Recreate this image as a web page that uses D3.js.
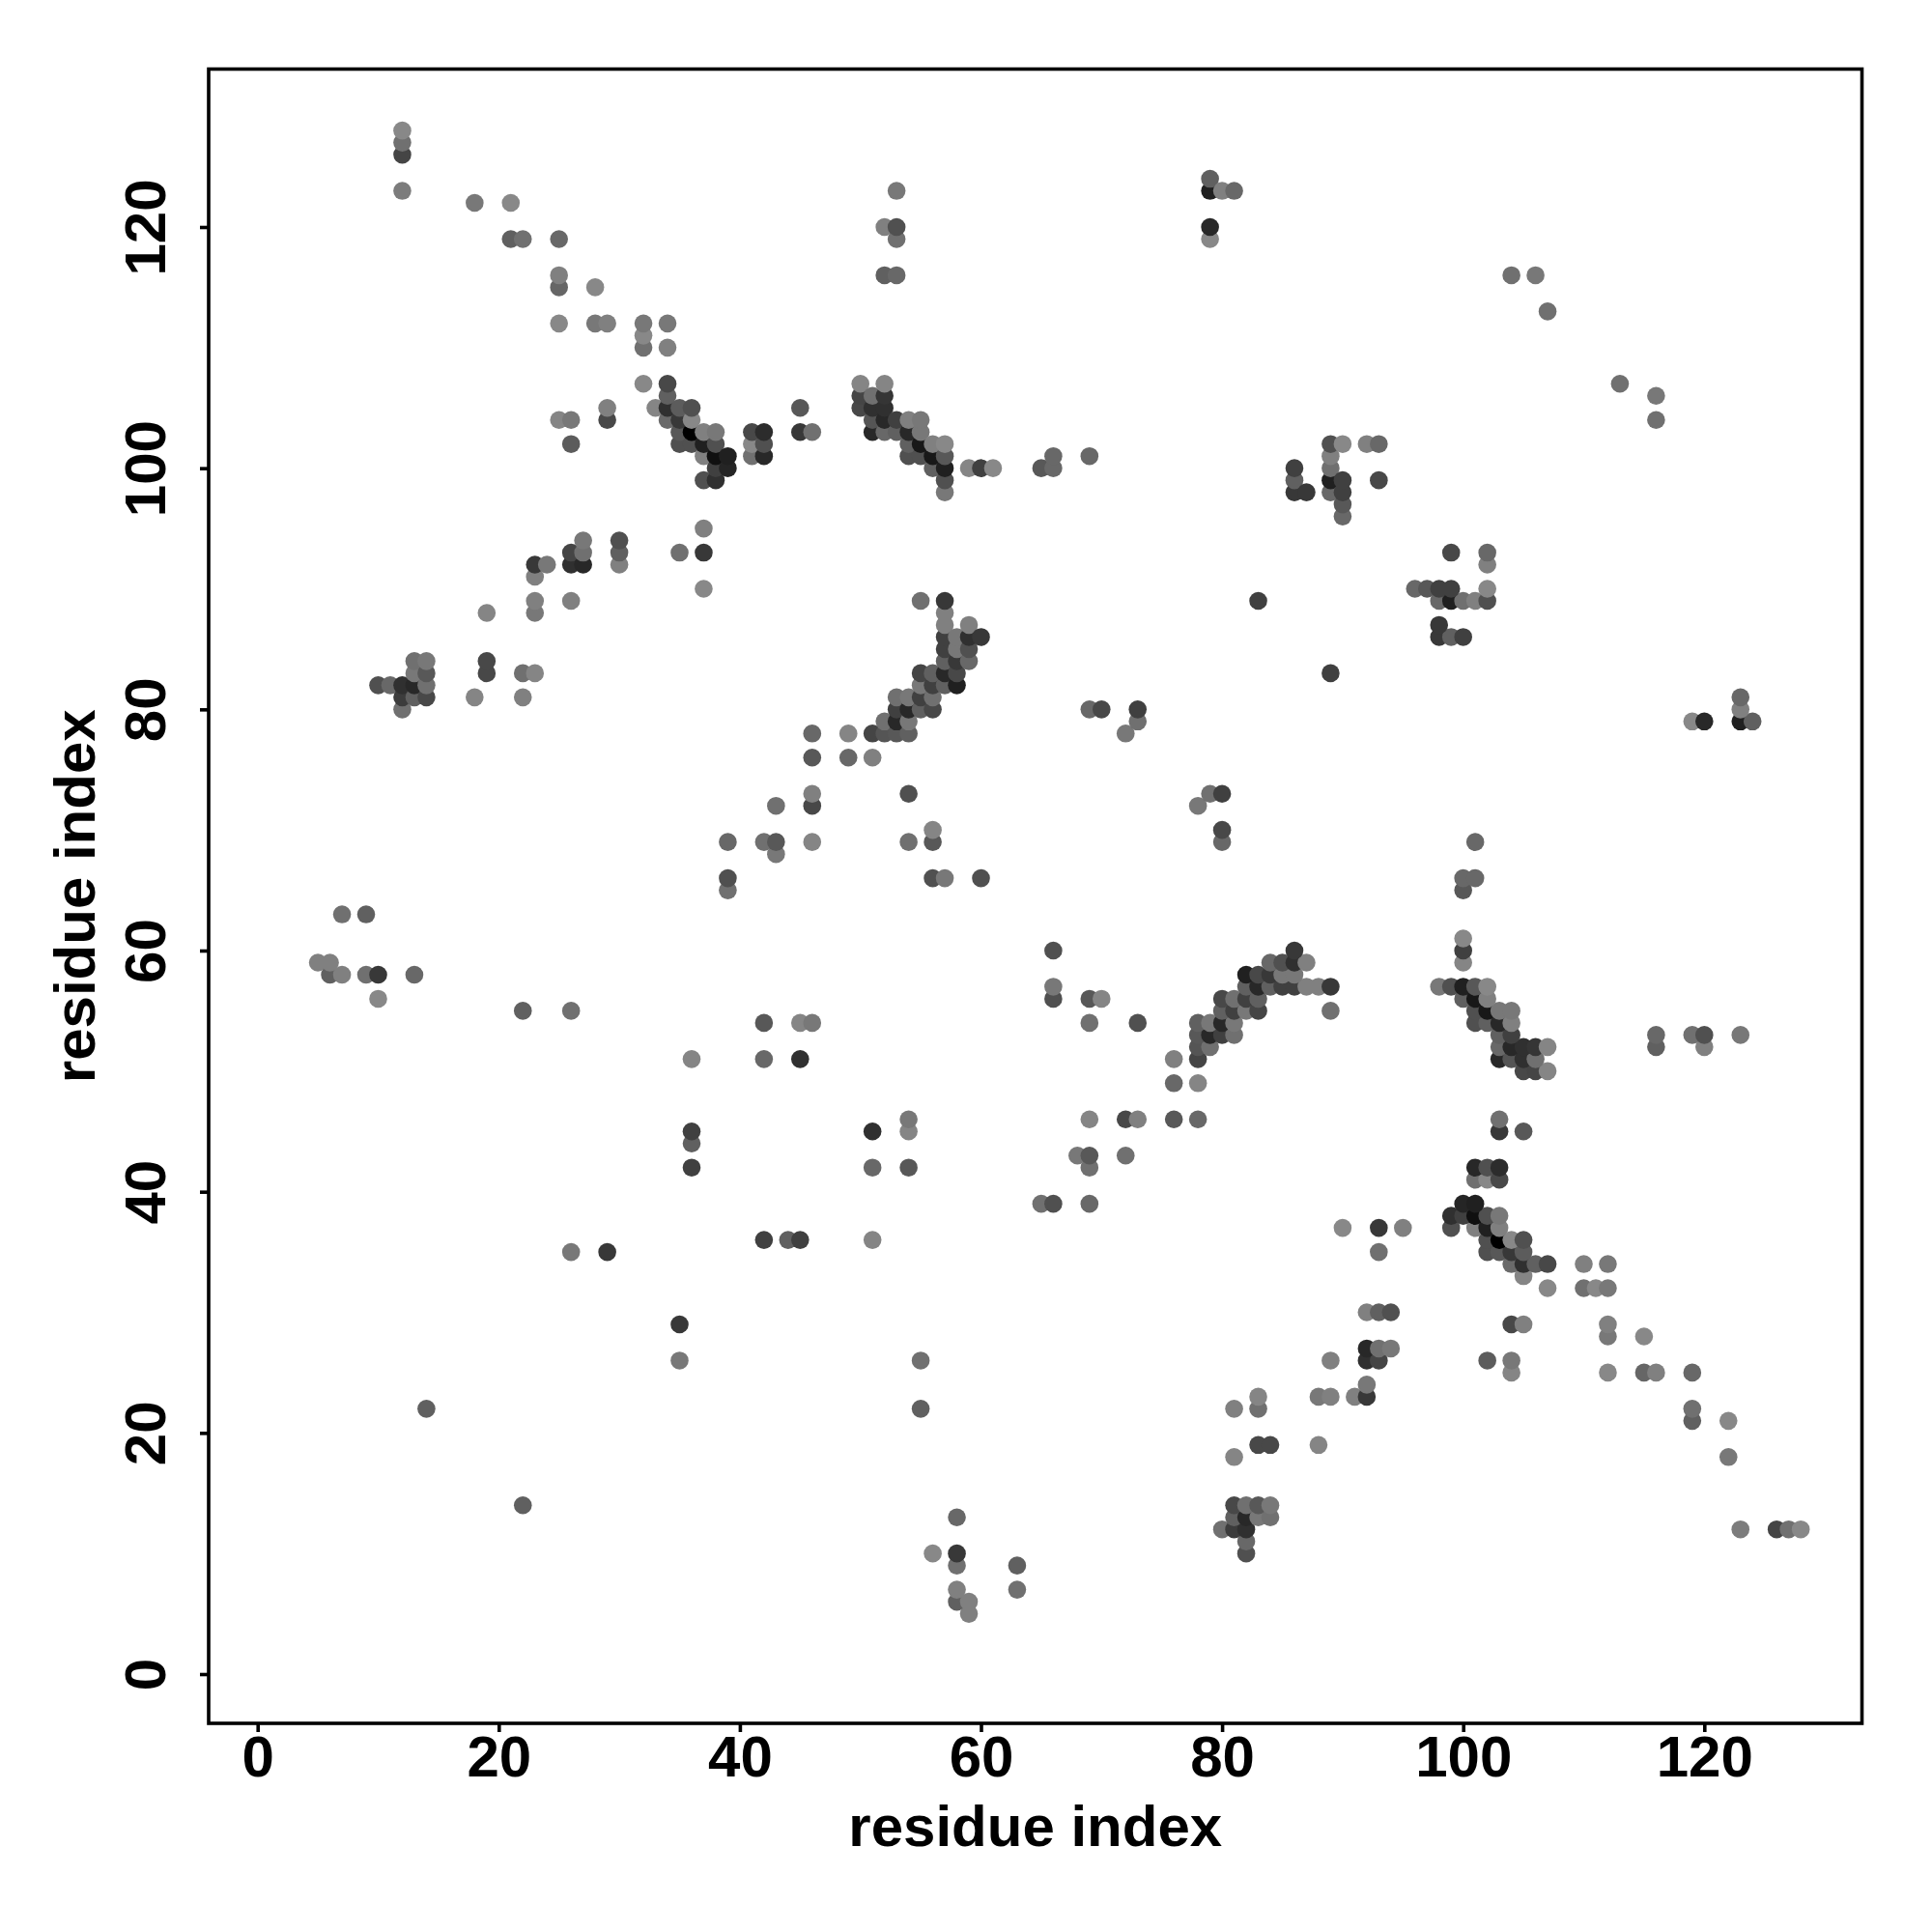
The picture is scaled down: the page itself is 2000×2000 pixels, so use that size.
<!DOCTYPE html>
<html><head><meta charset="utf-8">
<style>html,body{margin:0;padding:0;background:#fff}svg{display:block}text{font-family:"Liberation Sans",Arial,sans-serif;font-weight:bold;fill:#000}</style>
<script src="https://cdn.jsdelivr.net/npm/d3@7"></script></head><body>
<script>
// each contact: [residue i, residue j, level] ; level = shade. The map is symmetric.
const contactsFarNTerm=[[5,59,0x80],[6,59,0x80],[6,58,0x60],[7,58,0x80],[7,63,0x70],[9,58,0x70],[9,63,0x60],[10,56,0x88],[10,58,0x38],[13,58,0x68],
[10,82,0x50],[11,82,0x68],[12,80,0x70],[12,81,0x3c],[12,82,0x30],[13,81,0x60],[13,82,0x28],[13,83,0x78],[13,84,0x70],[14,81,0x48],[14,82,0x70],[14,83,0x58],[14,84,0x78],
[12,123,0x7c],[12,126,0x45],[12,127,0x70],[12,128,0x88],[14,22,0x60],[18,81,0x85],[18,122,0x78],[19,83,0x48],[19,84,0x48],[19,88,0x85],[21,119,0x60],[21,122,0x88],[22,55,0x60],[22,81,0x80],[22,83,0x70],[22,119,0x70]];
const contactsStrandA=[[23,83,0x85],[23,88,0x78],[23,89,0x80],[23,91,0x80],[23,92,0x38],[24,92,0x78],[25,104,0x85],[25,112,0x88],[25,115,0x66],[25,116,0x80],[25,119,0x68],
[26,35,0x78],[26,55,0x70],[26,89,0x80],[26,92,0x30],[26,93,0x45],[26,102,0x5c],[26,104,0x78],[27,92,0x28],[27,93,0x70],[27,94,0x78],[28,112,0x78],[28,115,0x88],
[29,35,0x38],[29,104,0x48],[29,105,0x80],[29,112,0x80],[30,92,0x80],[30,93,0x60],[30,94,0x50],[32,107,0x88],[32,110,0x70],[32,111,0x88],[32,112,0x78],[33,105,0x85],
[34,104,0x6a],[34,105,0x30],[34,106,0x60],[34,107,0x48],[34,110,0x80],[34,112,0x78],[35,93,0x70],[35,102,0x50],[35,103,0x58],[35,104,0x38],[35,105,0x5c],
[36,42,0x40],[36,44,0x60],[36,45,0x40],[36,51,0x85],[36,102,0x50],[36,103,0x00],[36,104,0x88],[36,105,0x50],[37,90,0x88],[37,93,0x38],[37,95,0x80],[37,99,0x50],[37,101,0x80],[37,102,0x20],[37,103,0x80],
[38,99,0x30],[38,100,0x40],[38,101,0x10],[38,102,0x50],[38,103,0x78],[39,65,0x70],[39,66,0x50],[39,69,0x68],[39,100,0x25],[39,101,0x20]];
const contactsStrandB=[[41,101,0x70],[41,102,0x88],[41,103,0x48],[42,51,0x68],[42,54,0x58],[42,69,0x70],[42,101,0x28],[42,102,0x50],[42,103,0x2c],[43,68,0x78],[43,69,0x58],[43,72,0x70],
[45,51,0x30],[45,54,0x85],[45,103,0x38],[45,105,0x58],[46,54,0x78],[46,69,0x85],[46,72,0x48],[46,73,0x80],[46,76,0x58],[46,78,0x68],[46,103,0x70],[49,76,0x68],[49,78,0x85],
[50,105,0x48],[50,106,0x45],[50,107,0x85],[51,76,0x80],[51,78,0x45],[51,103,0x28],[51,104,0x55],[51,105,0x30],[51,106,0x70],[52,78,0x55],[52,79,0x70],[52,103,0x68],[52,104,0x28],[52,105,0x30],[52,106,0x35],[52,107,0x85],[52,116,0x60],[52,120,0x80],
[53,78,0x58],[53,79,0x28],[53,80,0x40],[53,81,0x70],[53,103,0x60],[53,104,0x40],[53,116,0x68],[53,119,0x70],[53,120,0x50],[53,123,0x78],
[54,69,0x70],[54,73,0x50],[54,78,0x60],[54,79,0x78],[54,80,0x28],[54,81,0x78],[54,101,0x50],[54,102,0x60],[54,103,0x28],[54,104,0x80]];
const contactsHelixC=[[55,80,0x60],[55,81,0x40],[55,82,0x78],[55,83,0x45],[55,89,0x70],[55,101,0x50],[55,102,0x18],[55,103,0x78],[55,104,0x78],
[56,66,0x50],[56,69,0x58],[56,70,0x85],[56,80,0x48],[56,81,0x70],[56,82,0x40],[56,83,0x60],[56,100,0x60],[56,101,0x18],[56,102,0x80],
[57,66,0x78],[57,82,0x60],[57,83,0x28],[57,84,0x60],[57,85,0x40],[57,86,0x40],[57,87,0x80],[57,88,0x80],[57,89,0x38],[57,98,0x78],[57,99,0x50],[57,100,0x20],[57,101,0x58],[57,102,0x88],
[58,82,0x20],[58,83,0x48],[58,84,0x38],[58,85,0x78],[58,86,0x78],[59,84,0x68],[59,85,0x50],[59,86,0x30],[59,87,0x80],[59,100,0x85],[60,66,0x50],[60,86,0x38],[60,100,0x40],[61,100,0x88],
[65,100,0x58],[66,100,0x68],[66,101,0x68],[69,80,0x68],[69,101,0x68],[70,80,0x48]];
const contactsLate=[[72,78,0x78],[73,79,0x70],[73,80,0x40],[79,119,0x88],[79,120,0x28],[79,123,0x20],[79,124,0x60],[80,123,0x80],[81,123,0x68],[83,89,0x40],
[86,98,0x38],[86,99,0x60],[86,100,0x40],[87,98,0x38],[89,98,0x68],[89,99,0x20],[89,100,0x70],[89,101,0x80],[89,102,0x50],[90,96,0x68],[90,97,0x58],[90,98,0x40],[90,99,0x40],[90,102,0x88],[92,102,0x80],[93,99,0x48],[93,102,0x68],
[104,116,0x70],[106,116,0x78],[107,113,0x70]];
const tickValues=[0,20,40,60,80,100,120];
const axisTitle="residue index";

const all=[].concat(contactsFarNTerm,contactsStrandA,contactsStrandB,contactsHelixC,contactsLate)
  .map(([i,j,l])=>({i,j,l}))
  .sort((a,b)=>d3.ascending(a.i,b.i)||d3.ascending(a.j,b.j));

const W=2000,H=2000;
const x=d3.scaleLinear().domain([0,120]).range([266.7,1764.3]);
const y=d3.scaleLinear().domain([0,120]).range([1733,235]);
const box={l:216,r:1927.5,t:71.5,b:1784};
const shade=d3.scaleLinear().domain([0,255]).range(["#000","#fff"]);
const svg=d3.select("body").append("svg").attr("width",W).attr("height",H);
svg.append("rect").attr("width",W).attr("height",H).attr("fill","#fff");

svg.append("g").selectAll("circle").data(all).join("circle")
  .attr("cx",d=>x(d.i)).attr("cy",d=>y(d.j)).attr("r",9.3).attr("fill",d=>shade(d.l));
svg.append("g").selectAll("circle").data(all).join("circle")
  .attr("cx",d=>x(d.j)).attr("cy",d=>y(d.i)).attr("r",9.3).attr("fill",d=>shade(d.l));

svg.append("rect").attr("x",box.l).attr("y",box.t).attr("width",box.r-box.l).attr("height",box.b-box.t)
  .attr("fill","none").attr("stroke","#000").attr("stroke-width",3.6);

const fs=60;
const ax=svg.append("g").attr("transform",`translate(0,${box.b})`)
  .call(d3.axisBottom(x).tickValues(tickValues).tickSize(9).tickSizeOuter(0));
ax.select(".domain").remove();
ax.selectAll("line").attr("stroke","#000").attr("stroke-width",3.6);
ax.selectAll("text").attr("dy",null).attr("fill","#000")
  .attr("font-family",'"Liberation Sans"').attr("font-weight","bold").attr("font-size",fs)
  .attr("text-anchor","middle").attr("y",55);
const ay=svg.append("g").attr("transform",`translate(${box.l},0)`)
  .call(d3.axisLeft(y).tickValues(tickValues).tickSize(9).tickSizeOuter(0));
ay.select(".domain").remove();
ay.selectAll("line").attr("stroke","#000").attr("stroke-width",3.6);
ay.selectAll("text").attr("x",null).attr("dy",null).attr("fill","#000")
  .attr("font-family",'"Liberation Sans"').attr("font-weight","bold").attr("font-size",fs)
  .attr("text-anchor","middle").attr("transform","translate(-45,0) rotate(-90)");
svg.append("text").attr("x",(box.l+box.r)/2).attr("y",1911).attr("text-anchor","middle").attr("font-size",fs).text(axisTitle);
svg.append("text").attr("transform",`translate(98,${(box.t+box.b)/2}) rotate(-90)`).attr("text-anchor","middle").attr("font-size",fs).text(axisTitle);
</script></body></html>
